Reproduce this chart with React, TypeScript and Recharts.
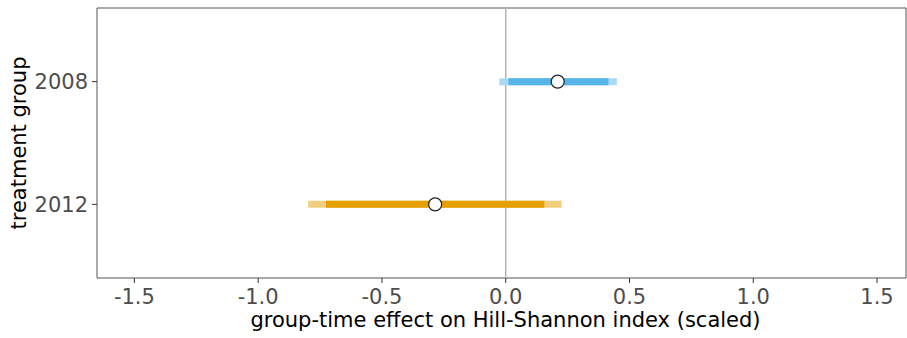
import { ComposedChart, Scatter, XAxis, YAxis, ReferenceLine, ReferenceArea, Label } from "recharts";

// treatment groups, top to bottom
const groups = ["2008", "2012"];
// point estimates
const estimates = [0.21, -0.285];
// inner (pointwise) interval
const innerLow = [0.011, -0.726];
const innerHigh = [0.415, 0.156];
// outer (simultaneous) interval
const outerLow = [-0.026, -0.798];
const outerHigh = [0.449, 0.226];

const xTicks = [-1.5, -1.0, -0.5, 0.0, 0.5, 1.0, 1.5];
const xDomain = [-1.651, 1.617];

const darkColors = ["#56B4E9", "#E69F00"];
const lightColors = ["#AAD9F4", "#F2CF7F"];

const FONT = "'DejaVu Sans', sans-serif";

const segment = (lo: number, hi: number, row: number) => [
  { x: lo, y: row },
  { x: hi, y: row },
];

const noShape = () => null;

export default function App() {
  return (
    <div style={{ fontFamily: FONT }}>
      <style>{`body{margin:0}`}</style>
      <ComposedChart width={907} height={338} margin={{ top: 8, right: 1, bottom: 0, left: 0 }}>
        <XAxis
          type="number"
          dataKey="x"
          domain={xDomain}
          ticks={xTicks}
          allowDataOverflow
          tickFormatter={(v: number) => v.toFixed(1)}
          height={60}
          tickSize={5}
          tickMargin={6}
          tickLine={{ stroke: "#333" }}
          axisLine={false}
          tick={{ fill: "#4d4d4d", fontSize: 21, fontFamily: FONT }}
        >
          <Label
            value="group-time effect on Hill-Shannon index (scaled)"
            position="insideBottom"
            offset={11}
            dx={4}
            style={{ fill: "#000", fontSize: 21, fontFamily: FONT }}
          />
        </XAxis>
        <YAxis
          type="number"
          dataKey="y"
          domain={[0.4, 2.6]}
          ticks={[1, 2]}
          reversed
          tickFormatter={(v: number) => groups[v - 1]}
          width={97}
          tickSize={5}
          tickMargin={4}
          tickLine={{ stroke: "#333" }}
          axisLine={false}
          tick={{ fill: "#4d4d4d", fontSize: 21, fontFamily: FONT }}
        >
          <Label
            value="treatment group"
            angle={-90}
            position="insideLeft"
            offset={19}
            style={{ fill: "#000", fontSize: 21, fontFamily: FONT, textAnchor: "middle" }}
          />
        </YAxis>
        <ReferenceArea
          x1={xDomain[0]}
          x2={xDomain[1]}
          y1={0.4}
          y2={2.6}
          fill="none"
          stroke="#555"
          strokeWidth={1}
        />
        <ReferenceLine x={0} stroke="#b3b3b3" strokeWidth={1.5} />
        {groups.map((g, i) => (
          <Scatter
            key={`outer-${g}`}
            data={segment(outerLow[i], outerHigh[i], i + 1)}
            line={{ stroke: lightColors[i], strokeWidth: 7 }}
            shape={noShape}
            isAnimationActive={false}
          />
        ))}
        {groups.map((g, i) => (
          <Scatter
            key={`inner-${g}`}
            data={segment(innerLow[i], innerHigh[i], i + 1)}
            line={{ stroke: darkColors[i], strokeWidth: 7 }}
            shape={noShape}
            isAnimationActive={false}
          />
        ))}
        <Scatter
          data={groups.map((g, i) => ({ x: estimates[i], y: i + 1 }))}
          fill="#fff"
          stroke="#222"
          strokeWidth={1.2}
          shape={(p: any) => <circle cx={p.cx} cy={p.cy} r={6.5} fill="#fff" stroke="#222" strokeWidth={1.2} />}
          isAnimationActive={false}
        />
      </ComposedChart>
    </div>
  );
}
